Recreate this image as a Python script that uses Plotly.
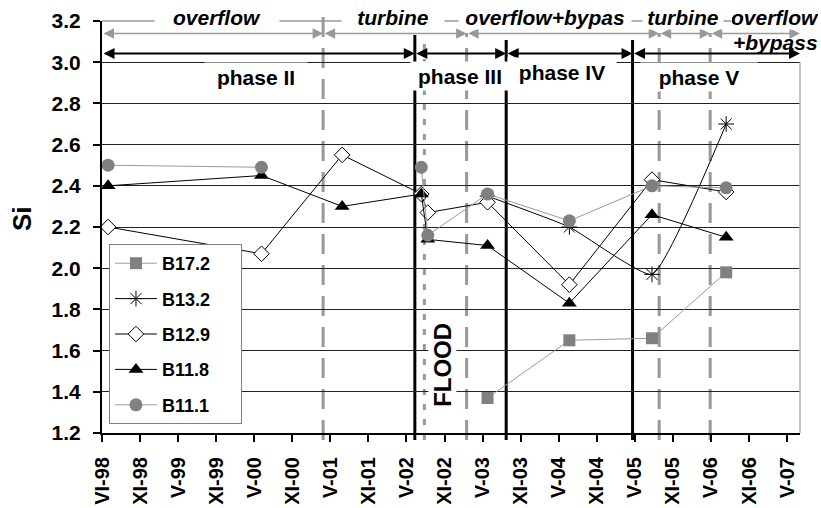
import plotly.graph_objects as go

# ---------------- data ----------------
tick_labels = ['VI-98', 'XI-98', 'V-99', 'XI-99', 'V-00', 'XI-00', 'V-01', 'XI-01',
               'V-02', 'XI-02', 'V-03', 'XI-03', 'V-04', 'XI-04', 'V-05', 'XI-05',
               'V-06', 'XI-06', 'V-07']
# sampling times, expressed in half-year tick units (0 = VI-98)
sample_t = [0.16, 4.19, 6.31, 8.39, 8.56, 10.13, 12.28, 14.45, 16.40]
b17_2 = [None, None, None, None, None, 1.37, 1.65, 1.66, 1.98]
b13_2 = [None, None, None, None, None, 2.35, 2.20, 1.97, 2.70]
b12_9 = [2.20, 2.07, 2.55, 2.36, 2.27, 2.32, 1.92, 2.43, 2.37]
b11_8 = [2.40, 2.45, 2.30, 2.36, 2.14, 2.11, 1.83, 2.26, 2.15]
b11_1 = [2.50, 2.49, None, 2.49, 2.16, 2.36, 2.23, 2.40, 2.39]
series_names = ['B17.2', 'B13.2', 'B12.9', 'B11.8', 'B11.1']

# event times (same units)
x_end = 18.34
operation_changes = [5.81, 9.58, 14.64, 15.98]
phase_bounds = [8.22, 10.62, 13.94]
flood_t = 8.47
operation_spans = [0, 5.81, 9.58, 14.64, 15.98, x_end]
operation_names = ['overflow', 'turbine', 'overflow+bypas', 'turbine', 'overflow']
operation_label_x = [3.02, 7.64, 11.63, 15.27, 17.69]
phase_spans = [0, 8.22, 10.62, 13.94, x_end]
phase_names = ['phase II', 'phase III', 'phase IV', 'phase V']
phase_label_x = [4.04, 9.40, 12.08, 15.69]

# ---------------- figure ----------------
FONT = 'Liberation Sans, Arial, sans-serif'
GRAY_LINE = '#999999'
NBSP = '\u00a0'
fig = go.Figure()

styles = [
    dict(y=b17_2, symbol='square', size=12, color='#808080',
         lcolor='#999999', mline='#808080', mlw=0, shape='linear'),
    dict(y=b13_2, symbol='asterisk-open', size=13, color='black',
         lcolor='black', mline='black', mlw=1, shape='spline'),
    dict(y=b12_9, symbol='diamond', size=12, color='white',
         lcolor='black', mline='black', mlw=1, shape='linear'),
    dict(y=b11_8, symbol='triangle-up', size=13, color='black',
         lcolor='black', mline='black', mlw=0, shape='linear'),
    dict(y=b11_1, symbol='circle', size=13, color='#808080',
         lcolor='#999999', mline='#808080', mlw=0, shape='linear'),
]
for name, s in zip(series_names, styles):
    fig.add_trace(go.Scatter(
        x=sample_t, y=s['y'], name=name + NBSP * 5, mode='lines+markers',
        legendgroup=name,
        line=dict(color=s['lcolor'], width=1, shape=s['shape'], smoothing=0.4),
        marker=dict(symbol=s['symbol'], size=s['size'], color=s['color'],
                    line=dict(color=s['mline'], width=s['mlw'])),
    ))

def py(px):
    """pixel row -> paper y"""
    return (433 - px) / 412.0

shapes = []
# gray dashed operation-change lines
for i, t in enumerate(operation_changes):
    top = 13 if i == 0 else 33
    shapes.append(dict(type='line', xref='x', yref='paper', x0=t, x1=t,
                       y0=py(440), y1=py(top), layer='between',
                       line=dict(color=GRAY_LINE, width=3, dash='20px,11px')))
# black phase boundaries
for i, t in enumerate(phase_bounds):
    top = 35 if i == 0 else 40
    shapes.append(dict(type='line', xref='x', yref='paper', x0=t, x1=t,
                       y0=py(440), y1=py(top), layer='between',
                       line=dict(color='black', width=3)))
# flood (dotted)
shapes.append(dict(type='line', xref='x', yref='paper', x0=flood_t, x1=flood_t,
                   y0=py(440), y1=py(35), layer='between',
                   line=dict(color=GRAY_LINE, width=3, dash='6px,9px')))
# plot-area border top / right (gray)
shapes.append(dict(type='line', xref='paper', yref='paper', x0=0, x1=1, y0=1, y1=1,
                   layer='above', line=dict(color='#9a9a9a', width=1.5)))
shapes.append(dict(type='line', xref='paper', yref='y', x0=1, x1=1, y0=1.2, y1=3.0,
                   layer='above', line=dict(color='#b0b0b0', width=1.5)))

annotations = []
# gray double arrows (operation regimes)
for a, b in zip(operation_spans[:-1], operation_spans[1:]):
    annotations.append(dict(x=b, y=py(33.5), ax=a, ay=0, xref='x', yref='paper',
                            axref='x', ayref='pixel', text='', showarrow=True,
                            arrowside='end+start', arrowhead=2, startarrowhead=2,
                            arrowsize=1.4, startarrowsize=1.4, arrowwidth=1.5,
                            arrowcolor=GRAY_LINE, standoff=0, startstandoff=0))
# black double arrows (phases)
for a, b in zip(phase_spans[:-1], phase_spans[1:]):
    annotations.append(dict(x=b, y=py(53.5), ax=a, ay=0, xref='x', yref='paper',
                            axref='x', ayref='pixel', text='', showarrow=True,
                            arrowside='end+start', arrowhead=2, startarrowhead=2,
                            arrowsize=1.1, startarrowsize=1.1, arrowwidth=2,
                            arrowcolor='black', standoff=0, startstandoff=0))
# operation labels
op_widths = [124, 102, 172, 80, 86]
for name, xc, w in zip(operation_names, operation_label_x, op_widths):
    annotations.append(dict(x=xc, y=py(17), xref='x', yref='paper', text=name,
                            showarrow=False, bgcolor='white', width=w, height=24,
                            borderpad=0, xanchor='center', yanchor='middle',
                            font=dict(family=FONT, size=21, weight='bold',
                                      style='italic', color='black')))
annotations.append(dict(x=operation_label_x[-1], y=py(43), xref='x', yref='paper',
                        text='+bypass', showarrow=False, xanchor='center',
                        yanchor='middle',
                        font=dict(family=FONT, size=21, weight='bold',
                                  style='italic', color='black')))
# phase labels
ph_widths = [102, 98, 108, 116]
ph_y = [77, 76, 72, 77]
for name, xc, w, yy in zip(phase_names, phase_label_x, ph_widths, ph_y):
    annotations.append(dict(x=xc, y=py(yy), xref='x', yref='paper', text=name,
                            showarrow=False, bgcolor='white', width=w, height=28,
                            borderpad=0, xanchor='center', yanchor='middle',
                            font=dict(family=FONT, size=21, weight='bold',
                                      color='black')))
# FLOOD
annotations.append(dict(x=8.93, y=py(365), xref='x', yref='paper', text='FLOOD',
                        textangle=-90, showarrow=False, bgcolor='white', borderpad=0,
                        xanchor='center', yanchor='middle',
                        font=dict(family=FONT, size=24, weight='bold', color='black')))
# y axis title
annotations.append(dict(x=(22 - 102) / 698.0, y=py(219), xref='paper', yref='paper',
                        text='Si', textangle=-90, showarrow=False,
                        xanchor='center', yanchor='middle',
                        font=dict(family=FONT, size=26, weight='bold', color='black')))

fig.update_layout(
    width=821, height=508,
    margin=dict(l=102, r=21, t=21, b=75, pad=0, autoexpand=False),
    paper_bgcolor='white', plot_bgcolor='white',
    font=dict(family=FONT, color='black'),
    shapes=shapes, annotations=annotations,
    showlegend=True,
    legend=dict(x=0.01, y=py(244), xanchor='left', yanchor='top',
                bgcolor='white', bordercolor='#808080', borderwidth=1,
                traceorder='grouped', tracegroupgap=9, itemwidth=42,
                font=dict(family=FONT, size=18, weight='bold', color='black')),
    xaxis=dict(range=[0, x_end], tickmode='array', tickvals=list(range(len(tick_labels))),
               ticktext=tick_labels, tickangle=-90, ticks='outside', ticklen=7,
               tickwidth=2, tickcolor='black', showline=True, linewidth=2,
               linecolor='black', showgrid=False, zeroline=False,
               ticklabelstandoff=7, automargin=False,
               tickfont=dict(family=FONT, size=20, weight='bold', color='black')),
    yaxis=dict(range=[1.2, 3.2], tick0=1.2, dtick=0.2, tickformat='.1f',
               ticks='outside', ticklen=7, tickwidth=2, tickcolor='black',
               showline=True, linewidth=2, linecolor='black',
               showgrid=True, gridcolor='#222222', gridwidth=1, zeroline=False,
               ticklabelstandoff=8, automargin=False,
               tickfont=dict(family=FONT, size=21, weight='bold', color='black')),
)

fig.write_html('out.html')
